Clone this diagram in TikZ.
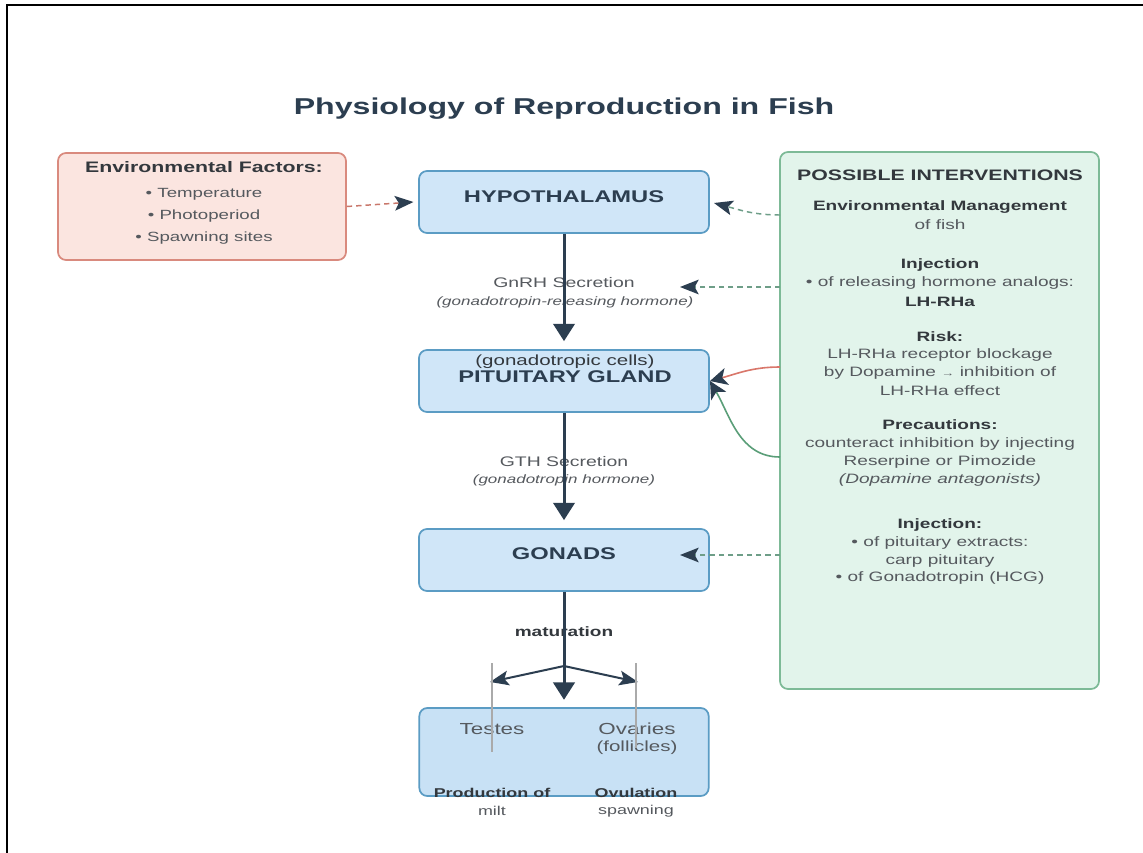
\documentclass[tikz,border=0pt]{standalone}
\usepackage{fontspec}
\setmainfont{Liberation Sans}[FakeStretch=1.4]
\usetikzlibrary{arrows.meta}
\definecolor{navy}{HTML}{2C3E50}
\definecolor{darktxt}{HTML}{33383D}
\definecolor{graytxt}{HTML}{55595E}
\definecolor{bluefill}{HTML}{D0E6F8}
\definecolor{bluefill2}{HTML}{C8E1F5}
\definecolor{blueline}{HTML}{5B9CC4}
\definecolor{pinkfill}{HTML}{FBE5E0}
\definecolor{pinkline}{HTML}{D98A7E}
\definecolor{greenfill}{HTML}{E2F4EB}
\definecolor{greenline}{HTML}{7DBA97}
\definecolor{reddash}{HTML}{C9776B}
\definecolor{greendash}{HTML}{6E9E88}
\definecolor{redcurve}{HTML}{D9776B}
\definecolor{greencurve}{HTML}{5A9E78}
\definecolor{guide}{HTML}{AAAAAA}
\tikzset{
  titlestyle/.style={font=\bfseries\fontsize{17.2}{20}\selectfont, text=navy, inner sep=0pt},
  boxbase/.style={rounded corners=6pt, line width=1.3pt, inner sep=0pt},
  bluebox/.style={boxbase, draw=blueline, fill=bluefill, minimum width=217.5pt, minimum height=46.5pt},
  boxlabel/.style={font=\bfseries\fontsize{12.7}{15}\selectfont, text=navy, inner sep=0pt},
  bodyb/.style={font=\bfseries\fontsize{10.2}{12}\selectfont, text=darktxt, inner sep=0pt},
  bodyr/.style={font=\fontsize{10.2}{12}\selectfont, text=graytxt, inner sep=0pt},
  bodyi/.style={font=\itshape\fontsize{9.1}{11}\selectfont, text=graytxt, inner sep=0pt},
  mainarrow/.style={draw=navy, line width=2.25pt, -{Triangle[length=13pt,width=16pt]}},
  brancharrow/.style={draw=navy, line width=1.5pt, -{Stealth[length=14pt,width=11pt,inset=3pt]}},
  dasharrow/.style={line width=1.1pt, dash pattern=on 4pt off 3pt, -{Stealth[length=14pt,width=11pt,inset=3pt,color=navy]}},
  curvearrow/.style={line width=1.2pt, -{Stealth[length=13pt,width=13pt,inset=3.5pt,color=navy]}},
  guideline/.style={draw=guide, line width=1.1pt}
}
\begin{document}
\begin{tikzpicture}[x=0.75pt,y=-0.75pt]
\useasboundingbox (0,0) rectangle (1143,853);
\fill[white] (0,0) rectangle (1143,853);
\draw[line width=1.6pt, black] (7,853) -- (7,5) -- (1143,5);

% title
\node[titlestyle] (title) at (564,109) {Physiology of Reproduction in Fish};

% environmental factors box
\node[boxbase, draw=pinkline, fill=pinkfill, minimum width=216pt, minimum height=80.25pt] (env) at (202,206.5) {};
\node[bodyb, font=\bfseries\fontsize{11.4}{13}\selectfont] (envt) at (204,167) {Environmental Factors:};
\node[bodyr, font=\fontsize{10}{12}\selectfont] (env1) at (204,194) {• Temperature};
\node[bodyr, font=\fontsize{10}{12}\selectfont] (env2) at (204,216) {• Photoperiod};
\node[bodyr, font=\fontsize{10}{12}\selectfont] (env3) at (204,238) {• Spawning sites};

% central boxes
\node[bluebox] (hypo) at (564,202) {};
\node[boxlabel] (hypot) at (564,197) {HYPOTHALAMUS};

\node[bluebox] (pit) at (564,381) {};
\node[bodyr, font=\fontsize{11}{13}\selectfont, text=darktxt] (pitc) at (565,362) {(gonadotropic cells)};
\node[boxlabel] (pitt) at (565,377) {PITUITARY GLAND};

\node[bluebox] (gon) at (564,560) {};
\node[boxlabel] (gont) at (564,554) {GONADS};

\node[boxbase, draw=blueline, fill=bluefill2, minimum width=217pt, minimum height=66pt] (bot) at (564,752) {};

% labels between boxes
\node[bodyr, font=\fontsize{10.4}{12}\selectfont] (gnrh) at (564,283) {GnRH Secretion};
\node[bodyi] (gnrhi) at (565,302) {(gonadotropin-releasing hormone)};
\node[bodyr, font=\fontsize{10.4}{12}\selectfont] (gth) at (564,462) {GTH Secretion};
\node[bodyi] (gthi) at (564,480) {(gonadotropin hormone)};
\node[bodyb] (mat) at (564,632) {maturation};

% main arrows
\draw[mainarrow, shorten >=6pt] (hypo.south) -- (pit.north);
\draw[mainarrow, shorten >=6pt] (pit.south) -- (gon.north);
\draw[mainarrow, shorten >=5.5pt] (gon.south) -- (bot.north);

% branches
\coordinate (br) at (564,666);
\coordinate (tL) at (490,682);
\coordinate (tR) at (638,682);
\draw[brancharrow] (br) -- (tL);
\draw[brancharrow] (br) -- (tR);

% bottom box texts
\node[bodyr, font=\fontsize{12}{14}\selectfont] (testes) at (492,729) {Testes};
\node[bodyr, font=\fontsize{12}{14}\selectfont] (ovar) at (637,729) {Ovaries};
\node[bodyr, font=\fontsize{11}{13}\selectfont] (foll) at (637,748) {(follicles)};
\node[bodyb, font=\bfseries\fontsize{9.6}{12}\selectfont] (prod) at (492,793) {Production of};
\node[bodyr, font=\fontsize{9.6}{12}\selectfont] (milt) at (492,811) {milt};
\node[bodyb, font=\bfseries\fontsize{9.6}{12}\selectfont] (ovul) at (636,793) {Ovulation};
\node[bodyr, font=\fontsize{9.6}{12}\selectfont] (spawn) at (636,811) {spawning};

% guide lines
\coordinate (gL1) at (492,663);
\coordinate (gL2) at (492,752);
\coordinate (gR1) at (636,663);
\coordinate (gR2) at (636,748);
\draw[guideline] (gL1) -- (gL2);
\draw[guideline] (gR1) -- (gR2);

% interventions box
\node[boxbase, draw=greenline, fill=greenfill, minimum width=239.25pt, minimum height=402.75pt] (right) at (939.5,420.5) {};
\node[bodyb, font=\bfseries\fontsize{11.4}{13}\selectfont] (r0) at (940,175) {POSSIBLE INTERVENTIONS};
\node[bodyb] (r1) at (940,207) {Environmental Management};
\node[bodyr] (r2) at (940,225) {of fish};
\node[bodyb] (r3) at (940,265) {Injection};
\node[bodyr] (r4) at (940,283) {• of releasing hormone analogs:};
\node[bodyb] (r5) at (940,302) {LH-RHa};
\node[bodyb] (r6) at (940,337) {Risk:};
\node[bodyr] (r7) at (940,355) {LH-RHa receptor blockage};
\node[bodyr] (r8) at (940,373) {by Dopamine {\fontsize{7}{8}\selectfont →} inhibition of};
\node[bodyr] (r9) at (940,391) {LH-RHa effect};
\node[bodyb] (r10) at (940,425) {Precautions:};
\node[bodyr] (r11) at (940,444) {counteract inhibition by injecting};
\node[bodyr] (r12) at (940,462) {Reserpine or Pimozide};
\node[bodyi, font=\itshape\fontsize{10.2}{12}\selectfont] (r13) at (940,480) {(Dopamine antagonists)};
\node[bodyb] (r14) at (940,525) {Injection:};
\node[bodyr] (r15) at (940,543) {• of pituitary extracts:};
\node[bodyr] (r16) at (940,561) {carp pituitary};
\node[bodyr] (r17) at (940,578) {• of Gonadotropin (HCG)};

% connectors from the interventions box
\coordinate (sA) at (780,215);
\coordinate (sB) at (780,287);
\coordinate (tB) at (680,287);
\coordinate (sC) at (780,367);
\coordinate (sD) at (780,457);
\coordinate (sE) at (780,555);
\coordinate (tE) at (680,555);
\coordinate (tA) at (714,203);
\coordinate (tP) at (710,381);

\draw[dasharrow, draw=reddash] (env.east) -- ([xshift=-3.5pt]hypo.west);
\draw[dasharrow, draw=greendash] (sA) to[out=180,in=-15] (tA);
\draw[dasharrow, draw=greendash] (sB) -- (tB);
\draw[dasharrow, draw=greendash] (sE) -- (tE);
\draw[curvearrow, draw=redcurve] (sC) to[out=180,in=15] (tP);
\draw[curvearrow, draw=greencurve] (sD) to[out=180,in=-60] (tP);
\end{tikzpicture}
\end{document}
